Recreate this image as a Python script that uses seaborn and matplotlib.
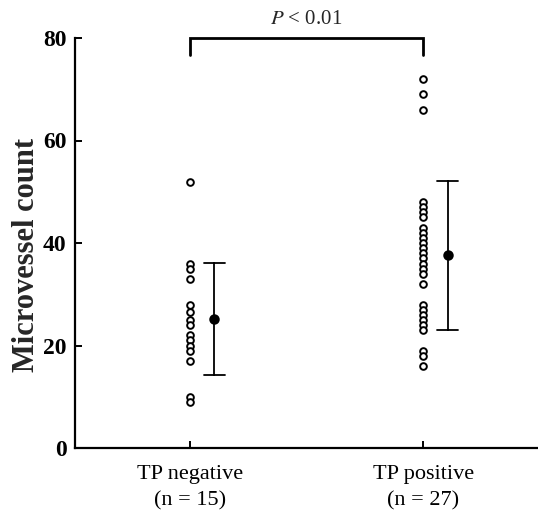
import matplotlib
matplotlib.use("Agg")
import matplotlib.pyplot as plt
import matplotlib.transforms as mtransforms
import numpy as np
import pandas as pd
import seaborn as sns

# Microvessel counts per tumour, grouped by thymidine phosphorylase status
groups = ["TP negative", "TP positive"]
group_labels = ["TP negative\n(n = 15)", "TP positive\n(n = 27)"]
tp_negative = [52, 36, 35, 33, 28, 26.5, 25, 24, 22, 21, 20, 19, 17, 10, 9]
tp_positive = [72, 69, 66, 48, 47, 46, 45, 43, 42, 41, 40, 39, 38, 37, 36,
               35, 34, 32, 28, 27, 26, 25, 24, 23, 19, 18, 16]
y_ticks = [0, 20, 40, 60, 80]
p_text = "$P$ < 0.01"

df = pd.DataFrame({
    "group": [groups[0]] * len(tp_negative) + [groups[1]] * len(tp_positive),
    "count": tp_negative + tp_positive,
})

sns.set_theme(style="ticks")
plt.rcParams["font.family"] = ["Liberation Serif", "DejaVu Serif"]
plt.rcParams["mathtext.fontset"] = "stix"

fig = plt.figure(figsize=(5.38, 5.22), dpi=100)
ax = fig.add_axes([75 / 538, 74 / 522, 463 / 538, 410 / 522])

# individual tumours as open circles
sns.stripplot(data=df, x="group", y="count", order=groups, jitter=False,
              marker="o", size=4.8, facecolor="white", edgecolor="black",
              linewidth=1.4, color="white", ax=ax, zorder=3)

# mean +/- SD, drawn just to the right of each column
n_lines = len(ax.lines)
n_colls = len(ax.collections)
sns.pointplot(data=df, x="group", y="count", order=groups, errorbar="sd",
              capsize=0.09, color="black", linestyle="none", marker="o",
              markersize=5.5, err_kws={"linewidth": 1.3}, ax=ax)
shift = mtransforms.Affine2D().translate(0.105, 0) + ax.transData
for ln in ax.lines[n_lines:]:
    ln.set_transform(shift)
for coll in ax.collections[n_colls:]:
    coll.set_offset_transform(shift)

ax.set_xlim(-0.49, 1.49)
ax.set_ylim(0, 80)
ax.set_yticks(y_ticks)
ax.set_yticklabels([str(t) for t in y_ticks], fontsize=17, fontweight="bold")
ax.set_xticks([0, 1])
ax.set_xticklabels(group_labels, fontsize=16, linespacing=1.55)
ax.set_xlabel("")
ax.set_ylabel("Microvessel count", fontsize=22, fontweight="bold")
ax.yaxis.set_label_coords(-0.074, 0.47)

ax.tick_params(axis="both", direction="in", length=5, width=1.4, colors="black")
ax.tick_params(axis="y", pad=6)
ax.tick_params(axis="x", pad=12)
sns.despine(ax=ax)
for side in ("left", "bottom"):
    ax.spines[side].set_linewidth(1.6)
    ax.spines[side].set_color("black")

# significance bracket
ax.plot([0, 0, 1, 1], [76.6, 80, 80, 76.6], color="black", lw=2.0,
        clip_on=False, solid_joinstyle="miter")
ax.text(0.5, 83.7, p_text, ha="center", va="center", fontsize=15,
        clip_on=False)

fig.savefig("out.png", dpi=100, facecolor="white")
